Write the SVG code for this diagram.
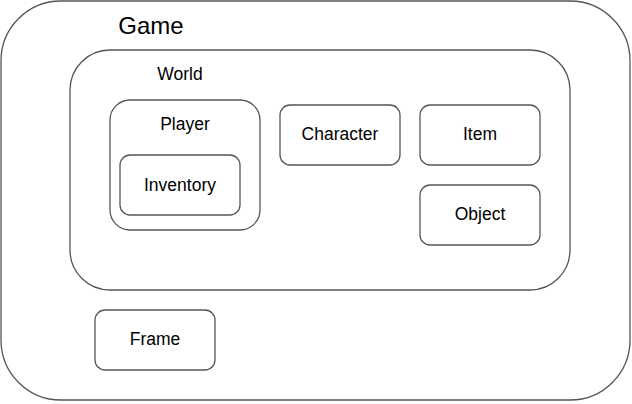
<svg xmlns="http://www.w3.org/2000/svg" width="632" height="404" viewBox="0 0 632 404">
<style>
rect{fill:#fff;stroke:#555;stroke-width:1.3}
text{font-family:"Liberation Sans",Arial,sans-serif;fill:#000;text-anchor:middle;dominant-baseline:central}
.s{font-size:17.5px}
</style>
<rect x="0" y="0" width="632" height="404" style="stroke:none"/>
<g id="game"><rect x="1" y="1" width="629" height="399" rx="60" ry="60"/><text x="151" y="25" style="font-size:24px">Game</text></g>
<g id="world"><rect x="70" y="50" width="500" height="240" rx="40" ry="40"/><text class="s" x="180" y="74">World</text></g>
<g id="player"><rect x="110" y="100" width="150" height="130" rx="20" ry="20"/><text class="s" x="185" y="124">Player</text></g>
<g id="inventory"><rect x="120" y="155" width="120" height="60" rx="10" ry="10"/><text class="s" x="180" y="185">Inventory</text></g>
<g id="character"><rect x="280" y="105" width="120" height="60" rx="10" ry="10"/><text class="s" x="340" y="134">Character</text></g>
<g id="item"><rect x="420" y="105" width="120" height="60" rx="10" ry="10"/><text class="s" x="480" y="134">Item</text></g>
<g id="object"><rect x="420" y="185" width="120" height="60" rx="10" ry="10"/><text class="s" x="480" y="214">Object</text></g>
<g id="frame"><rect x="95" y="310" width="120" height="60" rx="10" ry="10"/><text class="s" x="155" y="339">Frame</text></g>
<g id="connectors"></g>
</svg>
